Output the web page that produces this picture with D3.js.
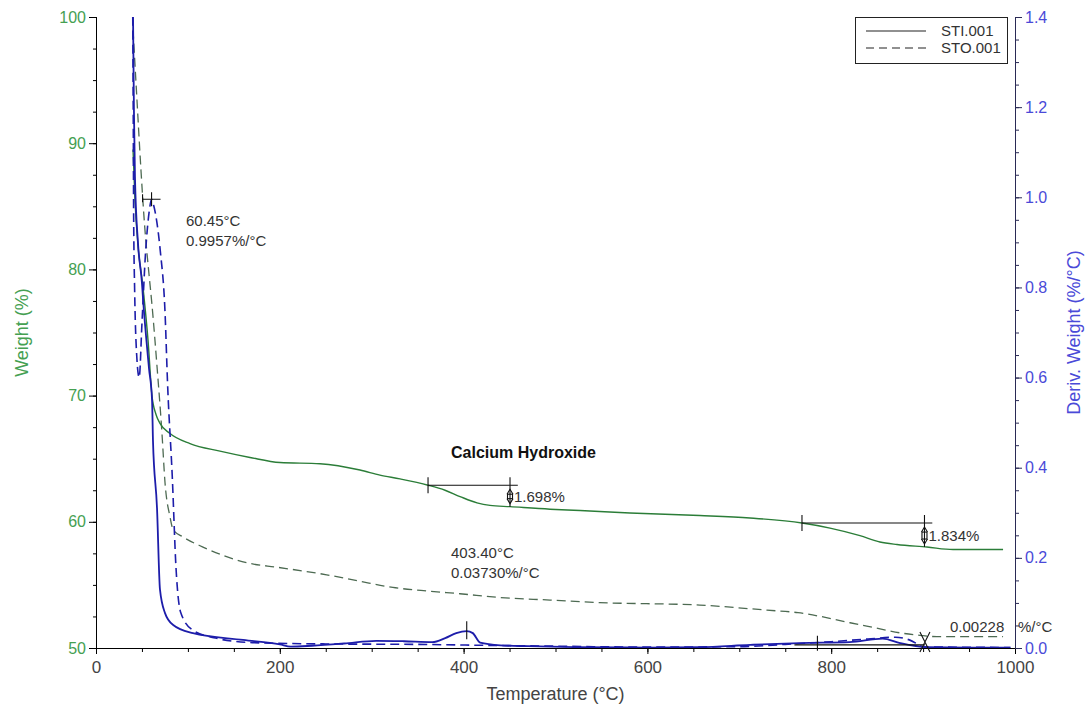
<!DOCTYPE html>
<html><head><meta charset="utf-8">
<script src="https://cdn.jsdelivr.net/npm/d3@7"></script>
<style>
html,body{margin:0;padding:0;background:#fff;}
svg text{font-family:"Liberation Sans",Arial,sans-serif;}
</style></head>
<body>
<svg id="chart" width="1086" height="708"></svg>
<script>
// ---------- DATA ----------
const xTicks = [0,200,400,600,800,1000];
const weightTicks = [50,60,70,80,90,100];
const derivTicks = [0.0,0.2,0.4,0.6,0.8,1.0,1.2,1.4];
const seriesNames = ["STI.001","STO.001"];

// STI.001 weight (%)
const stiWeightT = [40.3,42.4,45.7,51.1,56.6,60.9,65.3,69.6,80.5,102.3,134.9,167.6,200.2,243.7,287.3,309,330.8,361.3,379.8,396.1,414.6,428.7,450.5,494,526.7,581,657,711.6,768.2,798.7,831.3,853,871.6,904.2,932.5,987];
const stiWeight  = [89.5,85.5,81.9,78.6,74.4,70.0,68.5,67.8,67.0,66.2,65.6,65.1,64.7,64.6,64.1,63.7,63.4,62.9,62.5,62.0,61.5,61.3,61.2,61.0,60.9,60.7,60.5,60.3,59.9,59.5,58.9,58.4,58.2,58.0,57.8,57.8];

// STO.001 weight (%)
const stoWeightT = [40.3,44.6,48.9,53.3,57.7,60.9,66.4,71.8,75.1,80.5,83.8,94.7,116.4,167.6,197,251,286.2,323,363.3,396,439.6,494,548,657,730,763.9,801.9,820.5,847.7,874.9,896.6,915,987];
const stoWeight  = [99.0,93.4,87.9,83.1,79.6,77.2,72.3,67.0,63.1,60.4,59.4,58.8,58.0,56.7,56.4,55.8,55.3,54.8,54.5,54.3,54.0,53.8,53.6,53.4,53.0,52.8,52.3,52.0,51.6,51.2,51.0,50.9,50.9];

// STI.001 derivative weight (%/°C)
const stiDerivT = [40.3,41.3,42.4,45.7,50,51,57.7,61,62,66.4,69.6,75,84,105.5,160,200,212,235,270,305,335,366,380,392,403.4,410,418,440,470,520,600,657,712,766,820,856,875,904,950,995];
const stiDeriv  = [1.40,1.19,1.045,0.898,0.81,0.78,0.62,0.55,0.46,0.31,0.13,0.078,0.051,0.033,0.018,0.008,0.003,0.005,0.010,0.016,0.015,0.013,0.022,0.033,0.0373,0.033,0.012,0.006,0.004,0.002,0.001,0.002,0.007,0.011,0.013,0.021,0.011,0.002,0.001,0.001];

// STO.001 derivative weight (%/°C)
const stoDerivT = [40,40.5,41,42,44,47,50,54,58,60.45,63,70,75,78,83,87,92,105,130,170,250,350,420,500,600,700,750,800,840,870,885,902,920,995];
const stoDeriv  = [1.40,1.2,0.95,0.80,0.66,0.60,0.72,0.88,0.97,0.9957,0.98,0.88,0.75,0.58,0.38,0.18,0.08,0.04,0.022,0.012,0.009,0.008,0.006,0.004,0.002,0.003,0.008,0.014,0.020,0.024,0.018,0.00228,0.002,0.001];

// annotations
const peak1 = {t:60.45, v:0.9957, l1:"60.45°C", l2:"0.9957%/°C"};
const peak2 = {t:403.40, v:0.03730, l1:"403.40°C", l2:"0.03730%/°C"};
const peak3 = {t:902, v:0.00228, l1:"0.00228", l2:"%/°C"};
const step1 = {t0:361.3, t1:450.5, w0:62.9, w1:61.2, label:"1.698%"};
const step2 = {t0:768.2, t1:901.5, w0:59.9, w1:58.0, label:"1.834%"};
const calloutText = "Calcium Hydroxide";

// ---------- LAYOUT ----------
const L=96, R=1015, T=17, B=648;
const svg = d3.select("#chart");
const x = d3.scaleLinear().domain([0,1000]).range([L,R]);
const yW = d3.scaleLinear().domain([50,100]).range([B,T]);
const yD = d3.scaleLinear().domain([0,1.4]).range([B,T]);

const cGreen="#2b7d38", cGreenDash="#4d6a52", cBlue="#1d1daa";
const cGreenTxt="#45a052", cBlueTxt="#4a4ad8";

svg.append("defs").append("clipPath").attr("id","clip")
  .append("rect").attr("x",L).attr("y",T).attr("width",R-L).attr("height",B-T);

// axes
const gx = svg.append("g").attr("transform",`translate(0,${B})`);
gx.call(d3.axisBottom(x).tickValues(d3.range(0,1001,50)).tickSize(4).tickFormat(""));
gx.call(g=>g.select(".domain").remove());
const gx2 = svg.append("g").attr("transform",`translate(0,${B})`);
gx2.call(d3.axisBottom(x).tickValues(xTicks).tickSize(6).tickFormat(d3.format("d")));
gx2.selectAll("text").attr("font-size",17).attr("fill","#444").attr("dy","0.95em");
gx2.select(".domain").attr("d",`M${L},0.5H${R}`).attr("stroke","#000");
svg.selectAll("g line").attr("stroke","#000");

const gl = svg.append("g").attr("transform",`translate(${L},0)`);
gl.call(d3.axisLeft(yW).tickValues(d3.range(50,100.1,2.5)).tickSize(3).tickFormat(""));
gl.select(".domain").remove();
const gl2 = svg.append("g").attr("transform",`translate(${L},0)`);
gl2.call(d3.axisLeft(yW).tickValues(weightTicks).tickSize(7).tickFormat(d3.format("d")));
gl2.selectAll("text").attr("font-size",16).attr("fill",cGreenTxt);
gl2.select(".domain").attr("d",`M0.5,${T}V${B}`).attr("stroke","#000");
gl.selectAll("line").attr("stroke","#000"); gl2.selectAll("line").attr("stroke","#000");

const gr = svg.append("g").attr("transform",`translate(${R},0)`);
gr.call(d3.axisRight(yD).tickValues(d3.range(0,1.401,0.05)).tickSize(4).tickFormat(""));
gr.select(".domain").remove();
const gr2 = svg.append("g").attr("transform",`translate(${R},0)`);
gr2.call(d3.axisRight(yD).tickValues(derivTicks).tickSize(7).tickFormat(d3.format(".1f")));
gr2.selectAll("text").attr("font-size",16).attr("fill",cBlueTxt);
gr2.select(".domain").attr("d",`M0.5,${T}V${B}`).attr("stroke","#2a2a55");
gr.selectAll("line").attr("stroke","#2a2a55"); gr2.selectAll("line").attr("stroke","#2a2a55");

// axis titles
svg.append("text").attr("x",(L+R)/2).attr("y",700).attr("text-anchor","middle")
  .attr("font-size",18).attr("fill","#444").text("Temperature (°C)");
svg.append("text").attr("transform",`translate(28,${(T+B)/2}) rotate(-90)`).attr("text-anchor","middle")
  .attr("font-size",18).attr("fill",cGreenTxt).text("Weight (%)");
svg.append("text").attr("transform",`translate(1080,${(T+B)/2}) rotate(-90)`).attr("text-anchor","middle")
  .attr("font-size",18).attr("fill",cBlueTxt).text("Deriv. Weight (%/°C)");

// curves
const plot = svg.append("g").attr("clip-path","url(#clip)");
function draw(ts, vs, ys, color, dash, w){
  const pts = ts.map((t,i)=>[t,vs[i]]);
  plot.append("path").datum(pts)
    .attr("d", d3.line().x(d=>x(d[0])).y(d=>ys(d[1])).curve(d3.curveMonotoneX))
    .attr("fill","none").attr("stroke",color).attr("stroke-width",w)
    .attr("stroke-dasharray",dash);
}
draw(stoWeightT, stoWeight, yW, cGreenDash, "9,5", 1.3);
draw(stiWeightT, stiWeight, yW, cGreen, null, 1.4);
draw(stoDerivT, stoDeriv, yD, cBlue, "9,5", 1.6);
draw(stiDerivT, stiDeriv, yD, cBlue, null, 1.8);

// annotations
const ann = svg.append("g").attr("stroke","#111").attr("stroke-width",1.1).attr("fill","none");
const txt = svg.append("g").attr("font-size",15).attr("fill","#333");

// peak 1 marker
{
  const px=x(peak1.t), py=yD(peak1.v);
  ann.append("path").attr("d",`M${px-9},${py}H${px+9}M${px},${py-7}V${py+7}M${px-9},${py-5}V${py+3}`);
  txt.append("text").attr("x",186).attr("y",226).text(peak1.l1);
  txt.append("text").attr("x",186).attr("y",246).text(peak1.l2);
}
// peak 2 marker
{
  const px=x(peak2.t), py=yD(peak2.v);
  ann.append("path").attr("d",`M${px},${py-10}V${py+8}`);
  txt.append("text").attr("x",451).attr("y",558).text(peak2.l1);
  txt.append("text").attr("x",451).attr("y",578).text(peak2.l2);
}
// peak 3 marker (X)
{
  const px=x(peak3.t), py=yD(peak3.v);
  ann.append("path").attr("d",`M${px-5},${py-15}L${px+5},${py+5}M${px+5},${py-15}L${px-5},${py+5}`);
  txt.append("text").attr("x",950).attr("y",632).text(peak3.l1);
  txt.append("text").attr("x",1018).attr("y",632).text(peak3.l2);
}
// step markers
function step(s, xEnd){
  const a=x(s.t0), b=x(s.t1), ya=yW(s.w0), yb=yW(s.w1);
  ann.append("path").attr("d",`M${a},${ya-8}V${ya+8}M${a},${ya}H${xEnd}M${b},${ya-8}V${yb}`);
  const m1=ya+4, m2=yb-3;
  ann.append("path").attr("d",`M${b-3},${m1+5}L${b},${m1}L${b+3},${m1+5}M${b-3},${m2-5}L${b},${m2}L${b+3},${m2-5}`);
  ann.append("rect").attr("x",b-2.5).attr("y",m1+5).attr("width",5).attr("height",Math.max(2,m2-m1-10));
  txt.append("text").attr("x",b+4).attr("y",(ya+yb)/2+6).text(s.label);
}
step(step1, x(459));
step(step2, x(910));

// integration baseline near 800-900
ann.append("path").attr("d",`M${x(760)},${yD(0.007)}H${x(902)}M${x(785)},${yD(0.007)-9}V${yD(0.007)+6}`);

// callout
svg.append("text").attr("x",451).attr("y",458).attr("font-size",16).attr("font-weight","bold")
  .attr("fill","#111").text(calloutText);

// legend
const lg = svg.append("g");
lg.append("rect").attr("x",855.5).attr("y",17.5).attr("width",152).attr("height",46)
  .attr("fill","#fff").attr("stroke","#222").attr("stroke-width",1);
seriesNames.forEach((n,i)=>{
  const yy = 31 + i*17;
  lg.append("line").attr("x1",866).attr("x2",926).attr("y1",yy).attr("y2",yy)
    .attr("stroke","#222").attr("stroke-width",1.2).attr("stroke-dasharray", i? "8,5": null);
  lg.append("text").attr("x",941).attr("y",yy+5).attr("font-size",15).attr("fill","#333").text(n);
});
</script>
</body></html>
